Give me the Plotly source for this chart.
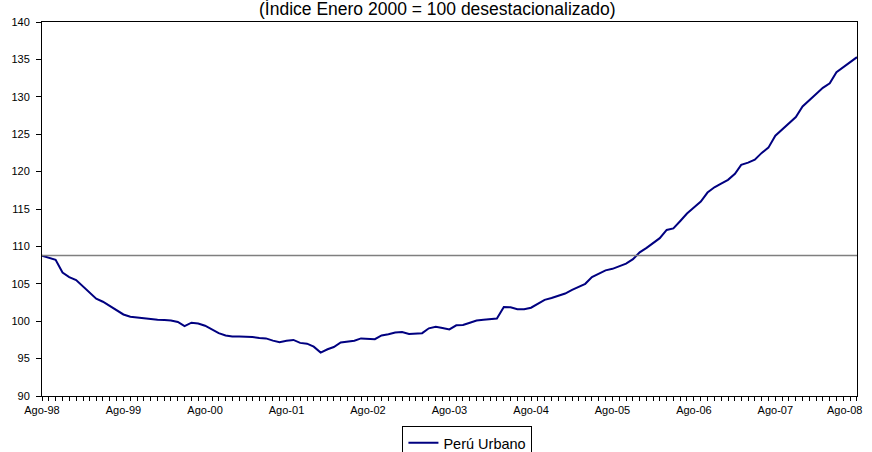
import plotly.graph_objects as go
import pandas as pd

# Monthly index, Aug-1998 .. Aug-2008 (Índice Enero 2000 = 100, desestacionalizado)
start_month = "1998-08-01"
peru_urbano = [
    108.75, 108.5, 108.2, 106.5, 105.9, 105.5, 104.6, 103.9, 103.0, 102.6,
    102.0, 101.4, 100.9, 100.6, 100.5, 100.35, 100.3, 100.2, 100.15, 100.1,
    99.9, 99.35, 99.8, 99.7, 99.4, 98.9, 98.4, 98.1, 97.95, 97.95,
    97.95, 97.9, 97.75, 97.7, 97.4, 97.2, 97.4, 97.5, 97.1, 97.0,
    96.6, 95.8, 96.25, 96.55, 97.15, 97.25, 97.4, 97.7, 97.7, 97.6,
    98.1, 98.25, 98.5, 98.55, 98.3, 98.35, 98.4, 99.05, 99.25, 99.1,
    98.9, 99.45, 99.5, 99.8, 100.1, 100.2, 100.3, 100.35, 101.9, 101.85,
    101.6, 101.6, 101.8, 102.3, 102.85, 103.1, 103.4, 103.7, 104.2, 104.6,
    105.0, 105.9, 106.4, 106.8, 107.0, 107.4, 107.7, 108.3, 109.2, 109.8,
    110.5, 111.1, 112.2, 112.4, 113.4, 114.4, 115.2, 116.0, 117.2, 117.9,
    118.4, 118.9, 119.7, 120.9, 121.2, 121.6, 122.5, 123.2, 124.8, 125.6,
    126.5, 127.3, 128.7, 129.5, 130.4, 131.2, 131.8, 133.3, 134.0, 134.6,
    135.3,
]
reference_level = 108.8
series_name = "Perú Urbano"
title_text = "(Índice Enero 2000 = 100 desestacionalizado)"
tick_years = list(range(1998, 2009))
tick_labels = ["Ago-%02d" % (y % 100) for y in tick_years]
y_ticks = list(range(90, 141, 5))

dates = pd.date_range(start_month, periods=len(peru_urbano), freq="MS")
tick_vals = [pd.Timestamp(f"{y}-08-01") for y in tick_years]

fig = go.Figure()
fig.add_trace(go.Scatter(
    x=dates, y=peru_urbano, mode="lines", name=series_name,
    line=dict(color="#000080", width=2),
))
fig.add_shape(type="line", xref="paper", x0=0, x1=1, yref="y",
              y0=reference_level, y1=reference_level,
              line=dict(color="#7f7f7f", width=1.5))

font = "Liberation Sans, Arial, sans-serif"
# the last tick label is drawn shifted left (kept inside the chart), as in the original
axis_ticktext = tick_labels[:-1] + [""]
fig.update_layout(
    width=872, height=452,
    margin=dict(l=42, r=15, t=22, b=56, autoexpand=False),
    paper_bgcolor="white", plot_bgcolor="white",
    font=dict(family=font, size=11, color="black"),
    showlegend=True,
    legend=dict(
        orientation="h", x=0.522, xanchor="center", y=-0.08, yanchor="top",
        bordercolor="black", borderwidth=1, bgcolor="white",
        font=dict(family=font, size=14.5, color="black"),
        itemwidth=30, tracegroupgap=0,
    ),
    annotations=[
        dict(
            text=title_text, xref="paper", yref="paper", x=0.485, y=1.004,
            xanchor="center", yanchor="bottom", showarrow=False,
            font=dict(family=font, size=17.5, color="black"),
        ),
        dict(
            text=tick_labels[-1], xref="paper", yref="paper", x=1.0, y=-0.0374,
            xanchor="right", yanchor="middle", xshift=7, showarrow=False,
            font=dict(family=font, size=11, color="black"),
        ),
    ],
)
fig.update_xaxes(
    range=[dates[0], dates[-1] + pd.Timedelta(hours=2)],
    tickvals=tick_vals, ticktext=axis_ticktext,
    ticks="outside", ticklen=4, tickcolor="black", tickwidth=1,
    minor=dict(dtick="M1", ticks="outside", ticklen=4, tickcolor="black", showgrid=False),
    showline=True, linecolor="black", linewidth=1, mirror=True,
    showgrid=False, zeroline=False, automargin=False,
    ticklabeloverflow="allow",
    tickfont=dict(family=font, size=11, color="black"),
)
fig.update_yaxes(
    range=[90, 140], tickvals=y_ticks,
    ticks="outside", ticklen=5, tickcolor="black", tickwidth=1,
    showline=True, linecolor="black", linewidth=1, mirror=True,
    showgrid=False, zeroline=False, automargin=False,
    ticklabeloverflow="allow", ticklabelstandoff=4,
    tickfont=dict(family=font, size=11, color="black"),
)

fig.write_html("out.html", config={"displayModeBar": False},
               post_script="document.body.style.margin='0px';")
